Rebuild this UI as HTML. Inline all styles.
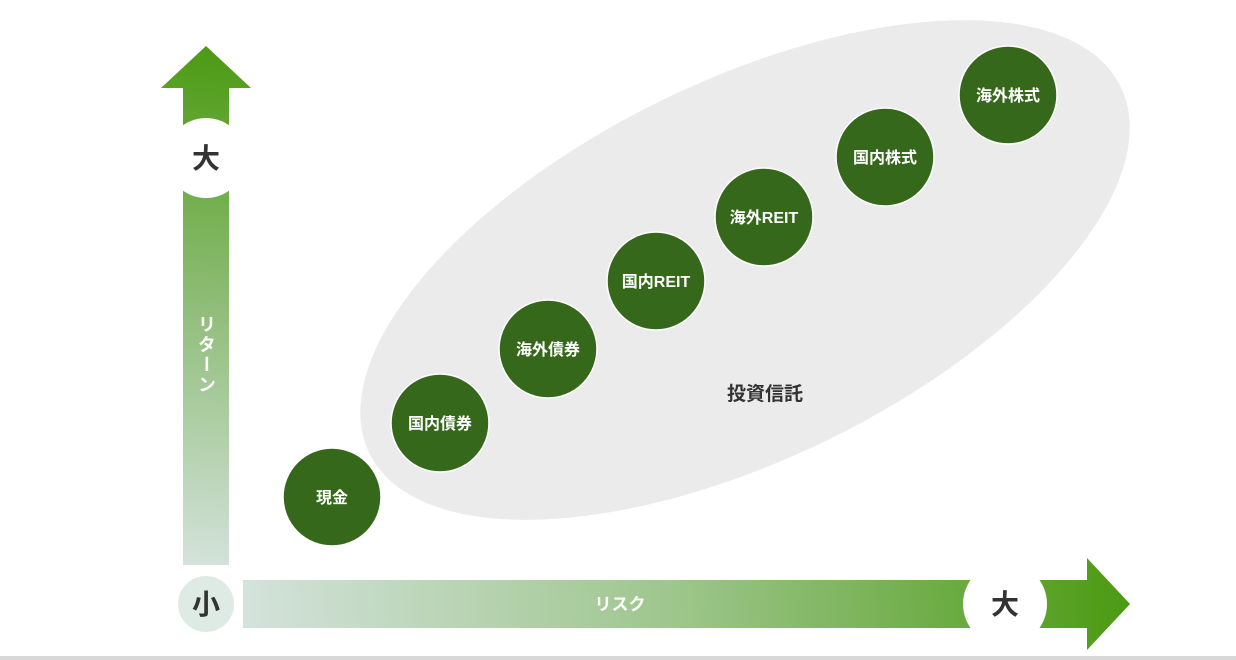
<!DOCTYPE html>
<html><head><meta charset="utf-8"><style>
html,body{margin:0;padding:0;background:#fff;}
svg{display:block;}
text{font-family:"Liberation Sans","Noto Sans CJK JP",sans-serif;font-weight:bold;}
</style></head><body>
<svg width="1236" height="660" viewBox="0 0 1236 660" xmlns="http://www.w3.org/2000/svg">
<defs>
<linearGradient id="gv2" gradientUnits="userSpaceOnUse" x1="183" y1="565" x2="229" y2="46">
<stop offset="0" stop-color="#d4e2dc"/><stop offset="0.5" stop-color="#8fbd78"/><stop offset="1" stop-color="#4b9a12"/>
</linearGradient>
<linearGradient id="gh2" gradientUnits="userSpaceOnUse" x1="243" y1="628" x2="1130" y2="580">
<stop offset="0" stop-color="#d4e2dc"/><stop offset="0.5" stop-color="#9cc58a"/><stop offset="1" stop-color="#4b9a12"/>
</linearGradient>
</defs>
<rect x="0" y="656" width="1236" height="4" fill="#d8d8d8"/>
<ellipse cx="745" cy="270" rx="418" ry="189" transform="rotate(-26 745 270)" fill="#ebebeb"/>
<path d="M183 565 L183 88 L161 88 L206 46 L251 88 L229 88 L229 565 Z" fill="url(#gv2)"/>
<circle cx="206" cy="158" r="40" fill="#fff"/>
<text x="206" y="168" font-size="28" text-anchor="middle" fill="#333">大</text>
<text x="206" y="355" font-size="18" fill="#fff" text-anchor="middle" style="writing-mode:vertical-rl;glyph-orientation-vertical:0" letter-spacing="2">リターン</text>
<path d="M243 580 L1087 580 L1087 558 L1130 604 L1087 650 L1087 628 L243 628 Z" fill="url(#gh2)"/>
<circle cx="1005" cy="604" r="42" fill="#fff"/>
<text x="1005" y="614" font-size="28" text-anchor="middle" fill="#333">大</text>
<circle cx="206" cy="604" r="28" fill="#ddebe4"/>
<text x="206" y="614" font-size="28" text-anchor="middle" fill="#333">小</text>
<text x="620" y="610" font-size="17" text-anchor="middle" fill="#fff">リスク</text>
<text x="765" y="400" font-size="19" text-anchor="middle" fill="#333">投資信託</text>
<g fill="#36681c" stroke="#fff" stroke-width="1.5">
<circle cx="332" cy="497" r="49"/><circle cx="440" cy="423" r="49"/><circle cx="548" cy="349" r="49"/>
<circle cx="656" cy="281" r="49"/><circle cx="764" cy="217" r="49"/><circle cx="885" cy="157" r="49"/>
<circle cx="1008" cy="95" r="49"/>
</g>
<g fill="#fff" font-size="16" text-anchor="middle">
<text x="332" y="503">現金</text><text x="440" y="429">国内債券</text><text x="548" y="355">海外債券</text>
<text x="656" y="287">国内REIT</text><text x="764" y="223">海外REIT</text><text x="885" y="163">国内株式</text>
<text x="1008" y="101">海外株式</text>
</g>
</svg>
</body></html>
